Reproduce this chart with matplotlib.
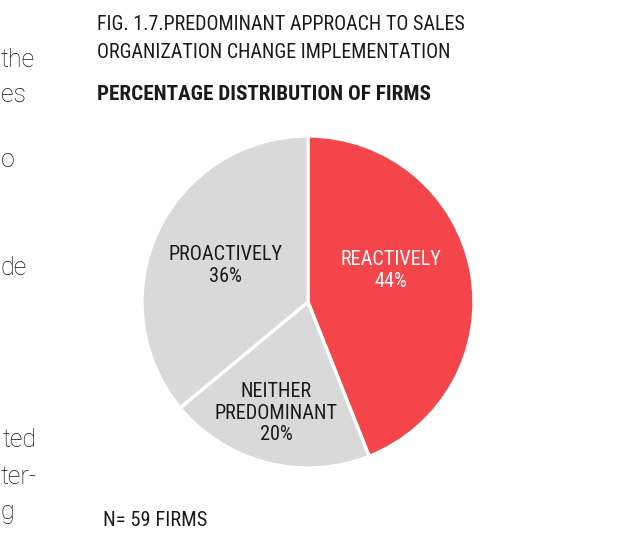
import matplotlib
matplotlib.use("Agg")
import matplotlib.pyplot as plt

categories = ["REACTIVELY", "NEITHER\nPREDOMINANT", "PROACTIVELY"]
values = [44, 20, 36]
colors = ["#F4464A", "#D9D9D9", "#D9D9D9"]
label_colors = ["white", "#1a1a1a", "#1a1a1a"]
title1 = "FIG. 1.7.PREDOMINANT APPROACH TO SALES"
title2 = "ORGANIZATION CHANGE IMPLEMENTATION"
subtitle = "PERCENTAGE DISTRIBUTION OF FIRMS"
note = "N= 59 FIRMS"
side_words = ["the", "es", "o", "de", "ted", "ter-", "g"]

FONT = ["Roboto Condensed", "Liberation Sans Narrow", "Roboto", "DejaVu Sans"]
plt.rcParams["font.family"] = FONT

W, H = 617, 542
fig = plt.figure(figsize=(W / 100, H / 100), dpi=100)
fig.patch.set_facecolor("white")

cx, cy, r = 308, 302, 166
ax = fig.add_axes([(cx - r) / W, (H - cy - r) / H, 2 * r / W, 2 * r / H])
wedges, _ = ax.pie(values, colors=colors, startangle=90, counterclock=False,
                   wedgeprops=dict(edgecolor="white", linewidth=2.4))
ax.set_xlim(-1, 1)
ax.set_ylim(-1, 1)
ax.set_aspect("equal")
ax.axis("off")

label_pos = [(0.50, 0.19), (-0.19, -0.67), (-0.50, 0.22)]
for cat, v, (x, y), c in zip(categories, values, label_pos, label_colors):
    ax.text(x, y, f"{cat}\n{v}%", ha="center", va="center", fontsize=14.6,
            color=c, linespacing=1.18)

txt = "#1a1a1a"
fig.text(97 / W, 1 - 25 / H, title1, fontsize=14.4, color=txt, va="center", ha="left")
fig.text(97 / W, 1 - 52 / H, title2, fontsize=14.4, color=txt, va="center", ha="left")
fig.text(97 / W, 1 - 95 / H, subtitle, fontsize=15.2, color=txt, va="center",
         ha="left", fontweight="bold")
fig.text(103 / W, 1 - 520 / H, note, fontsize=14.8, color=txt, va="center", ha="left")

side_left = [1, 1, 1, 1, 3, 1, 1]
side_y = [60, 95, 160, 268, 440, 477, 512]
for w, xl, yy in zip(side_words, side_left, side_y):
    fig.text(xl / W, 1 - yy / H, w, fontsize=18, color="#111111", ha="left",
             va="center", family=["Roboto", "DejaVu Sans"], fontweight="light")

fig.savefig("out.png", dpi=100, facecolor="white")
